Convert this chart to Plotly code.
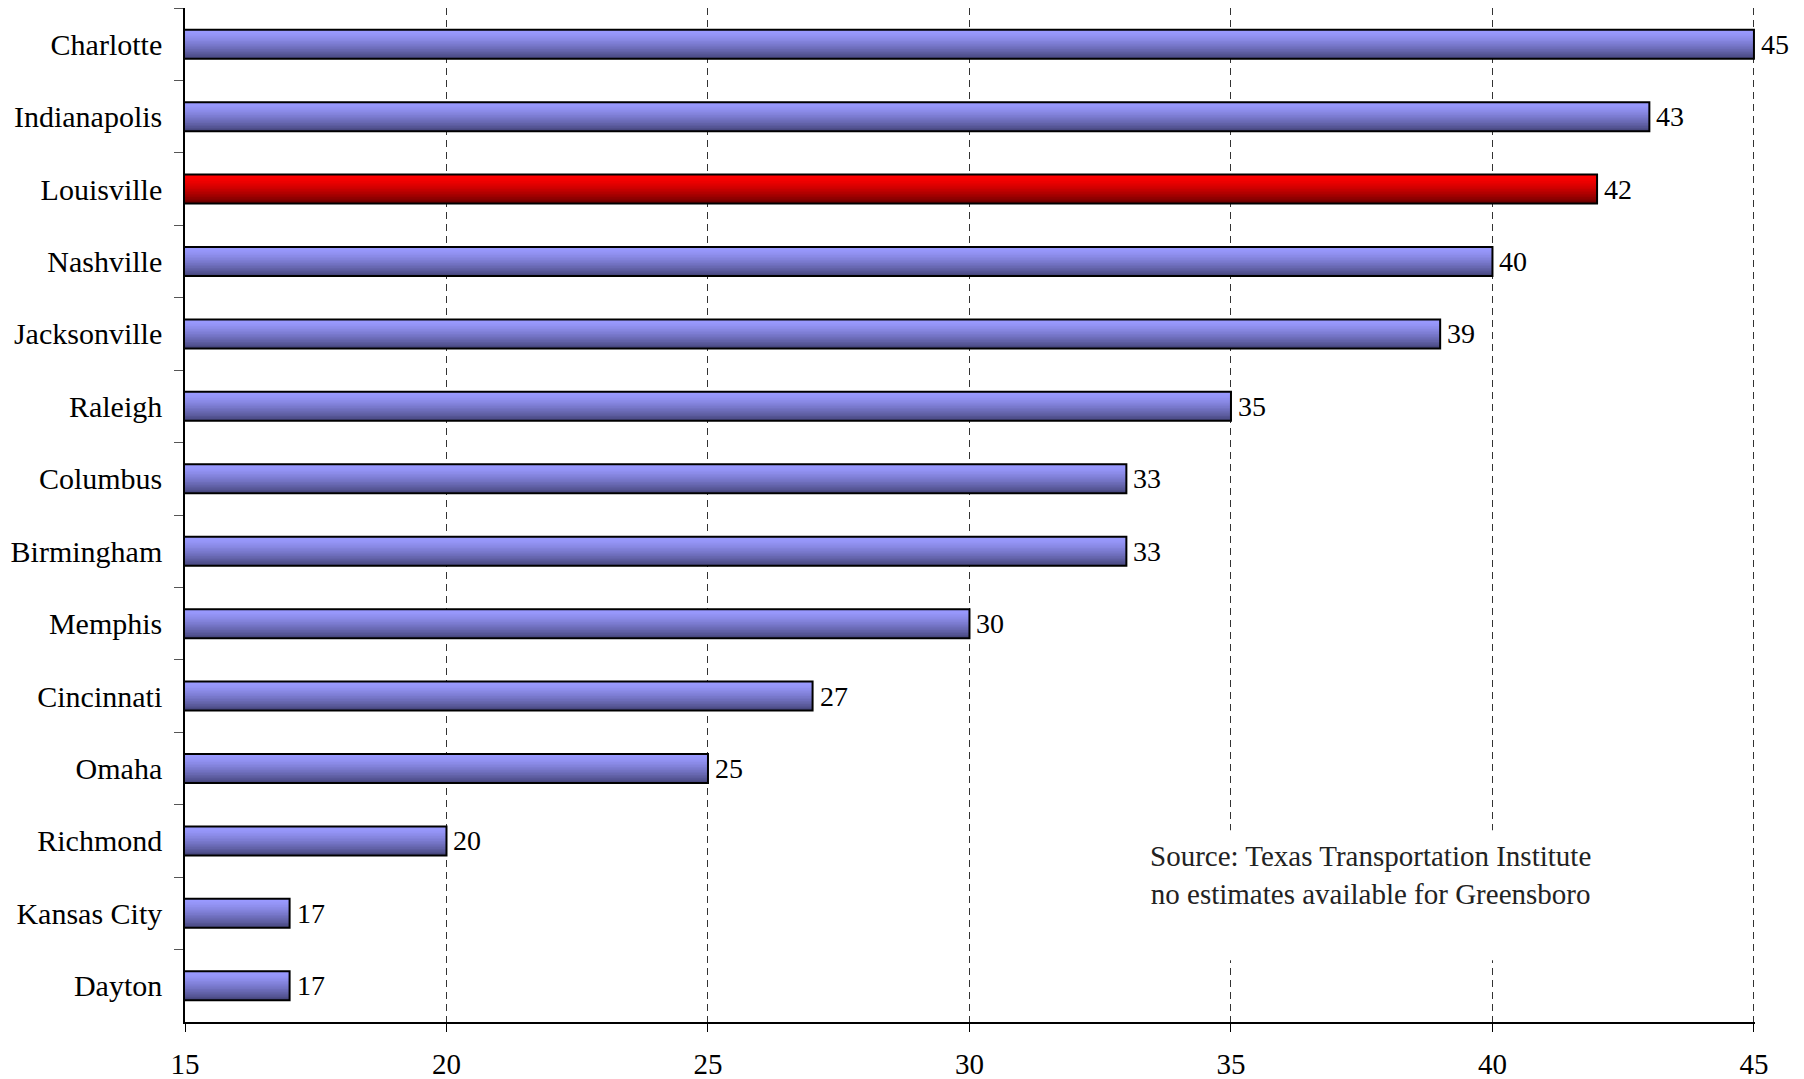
import plotly.graph_objects as go

cities = ["Charlotte", "Indianapolis", "Louisville", "Nashville", "Jacksonville",
          "Raleigh", "Columbus", "Birmingham", "Memphis", "Cincinnati", "Omaha",
          "Richmond", "Kansas City", "Dayton"]
values = [45, 43, 42, 40, 39, 35, 33, 33, 30, 27, 25, 20, 17, 17]
highlight = "Louisville"
x_ticks = [15, 20, 25, 30, 35, 40, 45]
source_lines = ["Source: Texas Transportation Institute",
                "no estimates available for Greensboro"]

FONT = "Liberation Serif, Times New Roman, serif"
blue_top, blue_bot = (154, 154, 255), (72, 72, 128)
red_top, red_bot = (255, 0, 0), (112, 0, 0)
N = 18
THICK = 0.4


def mix(a, b, t):
    return "rgb(%d,%d,%d)" % tuple(round(a[i] + (b[i] - a[i]) * t) for i in range(3))


fig = go.Figure()
h = THICK / N
for k in range(N):
    t = (k / (N - 1)) ** 1.4
    colors = [mix(red_top, red_bot, t) if c == highlight else mix(blue_top, blue_bot, t)
              for c in cities]
    fig.add_trace(go.Bar(
        orientation="h", y=cities, x=values,
        offset=-THICK / 2 + k * h, width=THICK - k * h,
        marker=dict(color=colors, line=dict(width=0)),
        hoverinfo="skip", showlegend=False,
    ))

fig.add_trace(go.Bar(
    orientation="h", y=cities, x=values, width=THICK,
    marker=dict(color="rgba(0,0,0,0)", line=dict(color="black", width=2)),
    showlegend=False,
))

for c, v in zip(cities, values):
    fig.add_annotation(x=v, y=c, xref="x", yref="y", text=str(v), showarrow=False,
                       xanchor="left", yanchor="middle", xshift=5,
                       font=dict(family=FONT, size=28, color="black"))

# white text box behind the source note (interrupts the gridlines)
fig.add_shape(type="rect", xref="x domain", yref="y domain",
              x0=0.608, x1=0.9, y0=0.061, y1=0.189,
              fillcolor="white", line=dict(width=0), layer="above")

fig.add_annotation(x=0.755, y=0.145, xref="paper", yref="paper",
                   text="<br>".join(source_lines), showarrow=False,
                   xanchor="center", yanchor="middle", align="center",
                   font=dict(family=FONT, size=29, color="#222"))

fig.update_layout(
    width=1796, height=1071,
    margin=dict(l=177, r=49, t=0, b=57),
    paper_bgcolor="white", plot_bgcolor="white",
    barmode="overlay", bargap=0.6,
    font=dict(family=FONT, color="black"),
    xaxis=dict(range=[15, 45.02], tickvals=x_ticks, ticktext=[str(v) for v in x_ticks],
               showgrid=True, gridcolor="#333", gridwidth=1, griddash="7px,5px",
               showline=True, linecolor="black", linewidth=1.5,
               ticks="outside", ticklen=8, tickcolor="black",
               tickfont=dict(family=FONT, size=29), ticklabelstandoff=7,
               zeroline=False, automargin=False),
    yaxis=dict(type="category", categoryarray=cities, autorange="reversed",
               showgrid=False, showline=True, linecolor="black", linewidth=1.5,
               ticks="outside", ticklen=9, tickcolor="#555", tickson="boundaries",
               tickfont=dict(family=FONT, size=30), ticklabelstandoff=15,
               automargin=False),
)

fig.write_html("out.html")
